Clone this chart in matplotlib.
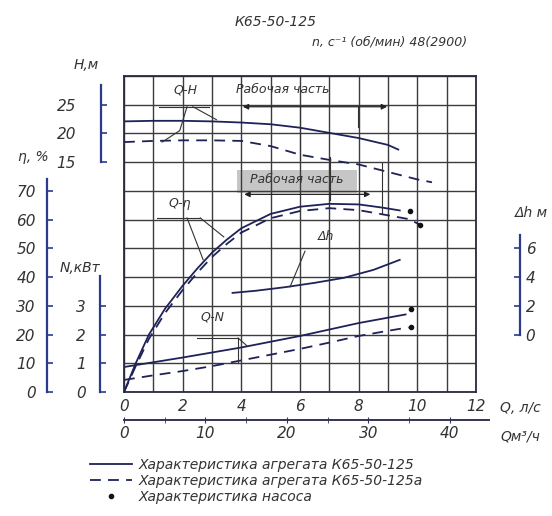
import numpy as np
import matplotlib
matplotlib.use("Agg")
import matplotlib.pyplot as plt
from matplotlib.lines import Line2D
from matplotlib.patches import Rectangle

plt.rcParams['font.family'] = ['Liberation Sans Narrow', 'DejaVu Sans']
plt.rcParams['font.style'] = 'italic'

# --- данные (Q в л/с) ---
q_h_a = [0, 1, 2, 3, 4, 5, 6, 7, 8, 9, 9.35]
h_a = [22.1, 22.2, 22.2, 22.1, 21.9, 21.6, 21.0, 20.1, 19.2, 18.0, 17.2]

q_h_b = [0, 1, 2, 3, 4, 5, 6, 7, 8, 9, 10, 10.5]
h_b = [18.5, 18.7, 18.8, 18.8, 18.7, 17.8, 16.3, 15.4, 14.6, 13.3, 12.0, 11.5]

q_eta_a = [0, 0.4, 0.85, 1.4, 2.0, 2.5, 3.0, 3.5, 4.0, 5.0, 6.0, 7.0, 8.0, 8.8, 9.4]
eta_a = [0, 10, 20, 29, 37, 43, 48.5, 53, 57, 62, 64.5, 65.5, 65.3, 64.2, 63.2]

q_eta_b = [0, 0.4, 0.85, 1.4, 2.0, 2.5, 3.0, 3.5, 4.0, 5.0, 6.0, 7.0, 8.0, 9.0, 9.7, 10.1]
eta_b = [0, 9, 18.5, 27.5, 35.5, 41.5, 47, 51.5, 55.5, 60.5, 63, 64, 63.3, 61.5, 60.2, 58.2]

q_n_a = [0, 2, 4, 6, 8, 9.6]
n_a = [0.87, 1.2, 1.55, 1.95, 2.4, 2.7]

q_n_b = [0, 1, 2, 3, 4, 5, 6, 7, 8, 9, 9.7]
n_b = [0.42, 0.58, 0.73, 0.9, 1.1, 1.3, 1.5, 1.72, 1.95, 2.13, 2.25]

q_dh = [3.7, 4.5, 5.5, 6.5, 7.5, 8.5, 9.4]
dh = [2.9, 3.05, 3.3, 3.6, 3.95, 4.5, 5.2]

# точки характеристики насоса
pump_q_eta = [9.75, 10.1]
pump_eta = [63.0, 58.2]
pump_q_n = [9.8, 9.8]
pump_n = [2.9, 2.25]

q_ticks = [0, 2, 4, 6, 8, 10, 12]
qm_ticks = [0, 10, 20, 30, 40]
eta_ticks = [0, 10, 20, 30, 40, 50, 60, 70]
n_ticks = [0, 1, 2, 3]
h_ticks = [15, 20, 25]
dh_ticks = [0, 2, 4, 6]

# перевод величин в строки сетки (одна клетка = 10 %, 1 кВт, 5 м, 2 м)
def eta_row(v):
    return np.asarray(v) / 10.0

def n_row(v):
    return np.asarray(v)

def h_row(v):
    return (np.asarray(v) + 25) / 5.0

def dh_row(v):
    return np.asarray(v) / 2.0 + 2

W, H = 552, 516
fig = plt.figure(figsize=(W / 100, H / 100), dpi=100)
fig.patch.set_facecolor('white')

ax = fig.add_axes([124 / W, 1 - 392 / H, 352 / W, 316 / H])
ax.set_xlim(0, 12)
ax.set_ylim(0, 11)
ax.set_xticks(q_ticks)
ax.set_xticks(range(13), minor=True)
ax.set_yticks(range(12))
ax.set_yticklabels([])
ax.grid(True, which='both', color='#3c3c3c', lw=1.0)
ax.tick_params(which='both', length=0, labelsize=11, pad=5, labelcolor='#333333')
for s in ax.spines.values():
    s.set_color('#2a2a40')
    s.set_linewidth(1.3)

navy = '#1e2258'
dash = (0, (6, 4))
ax.plot(q_h_a, h_row(h_a), color=navy, lw=1.3)
ax.plot(q_h_b, h_row(h_b), color=navy, lw=1.3, ls=dash)
ax.plot(q_eta_a, eta_row(eta_a), color=navy, lw=1.3)
ax.plot(q_eta_b, eta_row(eta_b), color=navy, lw=1.3, ls=dash)
ax.plot(q_n_a, n_row(n_a), color=navy, lw=1.3)
ax.plot(q_n_b, n_row(n_b), color=navy, lw=1.3, ls=dash)
ax.plot(q_dh, dh_row(dh), color=navy, lw=1.3)
ax.plot(pump_q_eta, eta_row(pump_eta), 'o', color='#111111', ms=3)
ax.plot(pump_q_n, n_row(pump_n), 'o', color='#111111', ms=3)

# подписи кривых
lab = dict(fontsize=9, color='#333333', ha='center', va='center')
ln = dict(color='#333333', lw=0.8)
ax.text(2.1, 10.52, 'Q-H', **lab)
ax.plot([1.2, 2.9], [9.93, 9.93], **ln)
ax.plot([2.35, 3.15], [9.93, 9.48], **ln)
ax.plot([2.15, 1.9, 1.3], [9.93, 9.1, 8.7], **ln)

ax.text(5.42, 10.52, 'Рабочая часть', **lab)
ax.annotate('', xy=(4.05, 9.93), xytext=(8.97, 9.93),
            arrowprops=dict(arrowstyle='<|-|>', color='#222222', lw=0.9,
                            mutation_scale=8, shrinkA=0, shrinkB=0))
for xq, y0, y1 in [(6.0, 9.93, 8.08), (7.98, 9.93, 9.23), (7.02, 8.19, 6.69), (8.8, 7.98, 6.24)]:
    ax.plot([xq, xq], [y0, y1], **ln)

ax.add_patch(Rectangle((3.85, 6.93), 4.09, 0.8, color='#b8b8b8', alpha=0.8, lw=0))
ax.text(5.9, 7.38, 'Рабочая часть', **lab)
ax.annotate('', xy=(4.1, 6.88), xytext=(8.4, 6.88),
            arrowprops=dict(arrowstyle='<|-|>', color='#222222', lw=0.9,
                            mutation_scale=8, shrinkA=0, shrinkB=0))

ax.text(1.91, 6.55, 'Q-η', **lab)
ax.plot([1.13, 2.6], [6.06, 6.06], **ln)
ax.plot([2.15, 2.7], [6.06, 4.6], **ln)
ax.plot([2.6, 3.4], [6.06, 5.4], **ln)

ax.text(6.87, 5.4, 'Δh', **lab)
ax.plot([6.17, 5.66], [4.9, 3.66], **ln)

ax.text(3.03, 2.6, 'Q-N', **lab)
ax.plot([2.49, 3.89], [1.88, 1.88], **ln)
ax.plot([3.89, 4.2], [1.88, 1.6], **ln)
ax.plot([3.89, 3.89], [1.88, 1.0], **ln)

# шкалы
blue = '#2b3a8c'

def style_scale(sec, side, lo, hi, ticks, pad):
    sec.set_yticks(ticks)
    sec.spines[side].set_bounds(lo, hi)
    sec.spines[side].set_color(blue)
    sec.spines[side].set_linewidth(1.6)
    sec.tick_params(direction='in', length=4, width=1.2, color=blue,
                    labelsize=11, labelcolor='#333333', pad=pad)

sec_eta = ax.secondary_yaxis(-0.219, functions=(lambda r: r * 10, lambda v: v / 10))
style_scale(sec_eta, 'left', 0, 74, eta_ticks, 8)

sec_n = ax.secondary_yaxis(-0.068, functions=(lambda r: r, lambda v: v))
style_scale(sec_n, 'left', 0, 4.05, n_ticks, 10)

sec_h = ax.secondary_yaxis(-0.065, functions=(lambda r: 5 * r - 25, lambda v: (v + 25) / 5))
style_scale(sec_h, 'left', 15, 28.5, h_ticks, 18)

sec_dh = ax.secondary_yaxis(1.125, functions=(lambda r: 2 * r - 4, lambda v: (v + 4) / 2))
style_scale(sec_dh, 'right', 0, 6.9, dh_ticks, 4)

sec_q = ax.secondary_xaxis(-0.0886, functions=(lambda q: q * 3.6, lambda v: v / 3.6))
sec_q.set_xticks(qm_ticks)
sec_q.set_xticks(range(0, 45, 5), minor=True)
sec_q.spines['bottom'].set_bounds(0, 44.8)
sec_q.spines['bottom'].set_color('#333355')
sec_q.spines['bottom'].set_linewidth(1.4)
sec_q.tick_params(which='both', direction='inout', length=5, color='#333355',
                  labelsize=11, labelcolor='#333333', pad=2)

# надписи
t = dict(color='#333333', ha='center', va='center')
fig.text(276 / W, 1 - 22 / H, 'К65-50-125', fontsize=10, **t)
fig.text(390 / W, 1 - 42 / H, 'n, с⁻¹ (об/мин) 48(2900)', fontsize=9, **t)
fig.text(86 / W, 1 - 65 / H, 'Н,м', fontsize=10, **t)
fig.text(33 / W, 1 - 157 / H, 'η, %', fontsize=10, **t)
fig.text(80 / W, 1 - 268 / H, 'N,кВт', fontsize=10, **t)
fig.text(531 / W, 1 - 213 / H, 'Δh м', fontsize=10, **t)
fig.text(520 / W, 1 - 408 / H, 'Q, л/с', fontsize=10, **t)
fig.text(520 / W, 1 - 437 / H, 'Qм³/ч', fontsize=10, **t)

handles = [Line2D([], [], color=navy, lw=1.3),
           Line2D([], [], color=navy, lw=1.3, ls=dash),
           Line2D([], [], ls='none', marker='o', ms=3, color='#111111')]
labels = ['Характеристика агрегата К65-50-125',
          'Характеристика агрегата К65-50-125а',
          'Характеристика насоса']
fig.legend(handles, labels, loc='upper left', bbox_to_anchor=(90 / W, 1 - 458 / H),
           frameon=False, fontsize=10, handlelength=3.0, handletextpad=0.5,
           labelspacing=0.15, borderpad=0, borderaxespad=0, labelcolor='#333333')

fig.savefig('out.png', dpi=100)
